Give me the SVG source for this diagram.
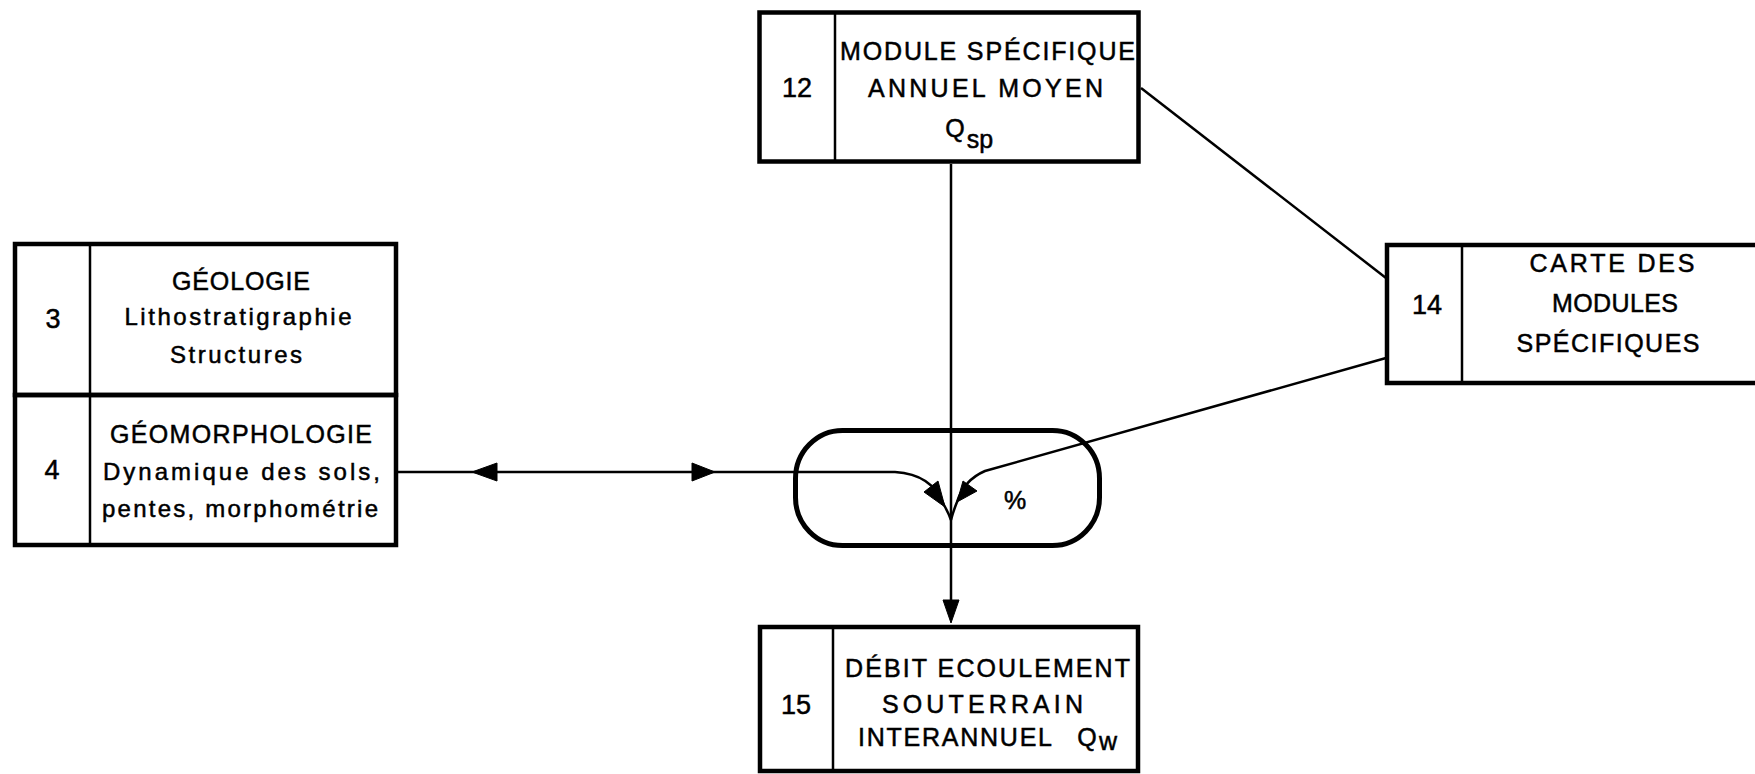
<svg xmlns="http://www.w3.org/2000/svg" width="1755" height="774" viewBox="0 0 1755 774">
<style>
.box{fill:none;stroke:#000;stroke-width:4.5}
.div{stroke:#000;stroke-width:2.5;fill:none}
.ln{stroke:#000;stroke-width:2.5;fill:none}
.t{font-family:"Liberation Sans",Arial,sans-serif;font-size:25px;fill:#000;stroke:#000;stroke-width:0.5;text-anchor:middle}
.s{font-size:24px}
.n{font-size:27px}
.ah{fill:#000;stroke:#000;stroke-width:1}
</style>
<rect width="1755" height="774" fill="#fff"/>
<g id="connectors">
<line class="ln" x1="951" y1="164" x2="951" y2="606"/>
<polygon class="ah" points="951,623 943,600 959,600"/>
<line class="ln" x1="1141" y1="88" x2="1386" y2="278"/>
<path class="ln" d="M398,472 L895,472 Q932,474 944,505 Q949,514 951,520"/>
<polygon class="ah" points="472,472 497,463 497,481"/>
<polygon class="ah" points="715,472 692,463 692,481"/>
<polygon class="ah" points="945,507 924,492 938,481"/>
<path class="ln" d="M1386,358 L985,471 Q964,480 957,502 Q953,512 951,520"/>
<polygon class="ah" points="957,502 963,481 977,491"/>
</g>
<g id="pill">
<rect x="795.5" y="430.5" width="304" height="115" rx="47" ry="48" fill="none" stroke="#000" stroke-width="5"/>
<text class="t" x="1015" y="509">%</text>
</g>
<g id="node12">
<rect class="box" x="759.5" y="12.5" width="379" height="149" stroke-width="5"/>
<line class="div" x1="835" y1="12" x2="835" y2="162"/>
<text class="t n" x="797" y="97">12</text>
<text class="t" x="987.5" y="60" textLength="295" lengthAdjust="spacing">MODULE SPÉCIFIQUE</text>
<text class="t" x="985.5" y="97" textLength="235" lengthAdjust="spacing">ANNUEL MOYEN</text>
<text class="t" x="955" y="137" font-size="24">Q</text>
<text class="t" x="980" y="148" font-size="22">sp</text>
</g>
<g id="node3">
<rect class="box" x="15" y="244" width="381" height="151"/>
<line class="div" x1="90" y1="244" x2="90" y2="395"/>
<text class="t n" x="53" y="328">3</text>
<text class="t" x="241" y="290" textLength="138" lengthAdjust="spacing">GÉOLOGIE</text>
<text class="t s" x="238" y="325" textLength="227" lengthAdjust="spacing">Lithostratigraphie</text>
<text class="t s" x="236" y="363" textLength="132" lengthAdjust="spacing">Structures</text>
</g>
<g id="node4">
<rect class="box" x="15" y="395" width="381" height="150"/>
<line class="div" x1="90" y1="395" x2="90" y2="545"/>
<text class="t n" x="52" y="479">4</text>
<text class="t" x="241" y="443" textLength="262" lengthAdjust="spacing">GÉOMORPHOLOGIE</text>
<text class="t s" x="241.5" y="480" textLength="277" lengthAdjust="spacing">Dynamique des sols,</text>
<text class="t s" x="240" y="517" textLength="276" lengthAdjust="spacing">pentes, morphométrie</text>
</g>
<g id="node14">
<rect class="box" x="1387" y="245" width="420" height="138" stroke-width="5"/>
<line class="div" x1="1462" y1="245" x2="1462" y2="383"/>
<text class="t n" x="1427" y="314">14</text>
<text class="t" x="1612" y="272" textLength="165" lengthAdjust="spacing">CARTE DES</text>
<text class="t" x="1615" y="312" textLength="126" lengthAdjust="spacing">MODULES</text>
<text class="t" x="1608" y="352" textLength="183" lengthAdjust="spacing">SPÉCIFIQUES</text>
</g>
<g id="node15">
<rect class="box" x="760" y="627" width="378" height="144" stroke-width="5"/>
<line class="div" x1="833" y1="627" x2="833" y2="771"/>
<text class="t n" x="796" y="714">15</text>
<text class="t" x="987.5" y="677" textLength="285" lengthAdjust="spacing">DÉBIT ECOULEMENT</text>
<text class="t" x="982.5" y="713" textLength="201" lengthAdjust="spacing">SOUTERRAIN</text>
<text class="t" x="955" y="746" textLength="194" lengthAdjust="spacing">INTERANNUEL</text>
<text class="t" x="1087" y="746" font-size="24">Q</text>
<text class="t" x="1108" y="750" font-size="19">w</text>
</g>
</svg>
